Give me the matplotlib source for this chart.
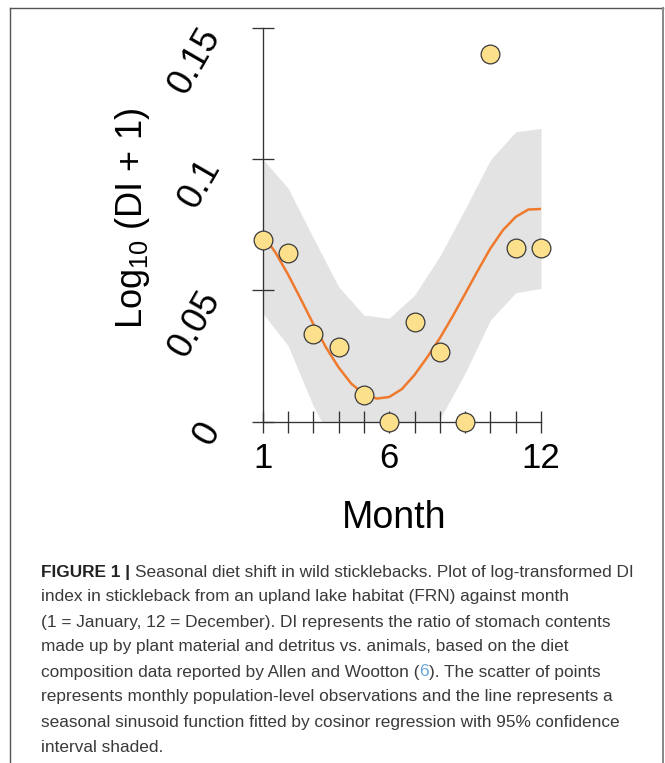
import matplotlib
matplotlib.use("Agg")
import matplotlib.pyplot as plt
from matplotlib import font_manager
from matplotlib.lines import Line2D
from matplotlib.transforms import offset_copy

# Data
months = [1, 2, 3, 4, 5, 6, 7, 8, 9, 10, 11, 12]
di_obs = [0.0692, 0.0644, 0.0334, 0.0284, 0.0100, 0.0, 0.0380, 0.0266, 0.0, 0.1399, 0.0660, 0.0660]

fit_month = [1, 1.5, 2, 2.5, 3, 3.5, 4, 4.5, 5, 5.5, 6, 6.5,
             7, 7.5, 8, 8.5, 9, 9.5, 10, 10.5, 11, 11.5, 12]
fit_vals = [0.0712, 0.0645, 0.0561, 0.0468, 0.0372, 0.0283, 0.0207, 0.0145, 0.0105, 0.0088, 0.0094, 0.0124,
            0.0178, 0.0245, 0.0318, 0.0400, 0.0487, 0.0575, 0.0660, 0.0730, 0.0780, 0.0808, 0.0810]

ci_upper = [0.1000, 0.0890, 0.0700, 0.0514, 0.0406, 0.0394, 0.0482, 0.0630, 0.0810, 0.0997, 0.1104, 0.1117]
ci_lower = [0.0413, 0.0290, 0.0060, -0.0120, -0.0200, -0.0205, -0.0120, 0.0010, 0.0185, 0.0387, 0.0491, 0.0508]

xtick_labels = ["1", "", "", "", "", "6", "", "", "", "", "", "12"]
yticks = [0, 0.05, 0.1, 0.15]
ytick_labels = ["0", "0.05", "0.1", "0.15"]

caption_lines = [
    [("FIGURE 1 |", "bold", "#222222"), ("Seasonal diet shift in wild sticklebacks. Plot of log-transformed DI", "normal", "#3a3a3a")],
    [("index in stickleback from an upland lake habitat (FRN) against month", "normal", "#3a3a3a")],
    [("(1 = January, 12 = December). DI represents the ratio of stomach contents", "normal", "#3a3a3a")],
    [("made up by plant material and detritus vs. animals, based on the diet", "normal", "#3a3a3a")],
    [("composition data reported by Allen and Wootton (", "normal", "#3a3a3a"), ("6", "normal", "#6aa6d8"),
     ("). The scatter of points", "normal", "#3a3a3a")],
    [("represents monthly population-level observations and the line represents a", "normal", "#3a3a3a")],
    [("seasonal sinusoid function fitted by cosinor regression with 95% confidence", "normal", "#3a3a3a")],
    [("interval shaded.", "normal", "#3a3a3a")],
]

plt.rcParams["font.family"] = ["Liberation Sans", "DejaVu Sans"]
plt.rcParams["mathtext.fontset"] = "custom"
plt.rcParams["mathtext.rm"] = "Liberation Sans"
plt.rcParams["mathtext.it"] = "Liberation Sans"

W, H = 665, 763
fig = plt.figure(figsize=(W / 100, H / 100), dpi=100)

ax = fig.add_axes([262.7 / W, 1 - 421.7 / H, (541 - 262.7) / W, (421.7 - 27.8) / H])
ax.fill_between(months, ci_lower, ci_upper, color="#e3e3e3", lw=0, zorder=1)
ax.plot(fit_month, fit_vals, color="#ef7a2e", lw=1.8, zorder=3)
ax.scatter(months, di_obs, s=13.5 ** 2, c="#fde08c", edgecolors="#3a3a3a",
           linewidths=0.9, zorder=4, clip_on=False)
ax.set_xlim(1, 12)
ax.set_ylim(0, 0.15)

for s in ["top", "right"]:
    ax.spines[s].set_visible(False)
for s in ["left", "bottom"]:
    ax.spines[s].set_color("#333333")
    ax.spines[s].set_linewidth(0.95)
ax.spines["left"].set_bounds(0, 0.15)
ax.spines["bottom"].set_bounds(1, 12)

ax.set_xticks(months)
ax.set_xticklabels(xtick_labels)
ax.set_yticks(yticks)
ax.set_yticklabels(ytick_labels)
ax.tick_params(direction="inout", length=16.5, width=0.95, color="#333333", labelsize=25)
ax.tick_params(axis="x", pad=6.5)
ax.tick_params(axis="y", pad=17, labelsize=26, labelrotation=60)
for t in ax.get_yticklabels():
    t.set_va("top")
    t.set_ha("right")
    t.set_transform(offset_copy(t.get_transform(), fig=fig, x=0, y=6, units="dots"))

fig.text(132 / W, 1 - 218 / H, r"Log$_{10}$ (DI + 1)", rotation=90, fontsize=26,
         ha="center", va="center")
fig.text(394 / W, 1 - 528 / H, "Month", fontsize=27, ha="center", va="baseline")

# frame around the figure panel
frame = dict(transform=fig.transFigure, color="#555555", lw=1.0)
fig.add_artist(Line2D([10 / W, 10 / W], [0, 1 - 8 / H], **frame))
fig.add_artist(Line2D([10 / W, 663 / W], [1 - 8 / H, 1 - 8 / H], **frame))
fig.add_artist(Line2D([663 / W, 663 / W], [0, 1 - 8 / H], color="#888888", lw=1.4, transform=fig.transFigure))

# caption
names = {f.name for f in font_manager.fontManager.ttflist}
cap_font = "Liberation Sans Narrow" if "Liberation Sans Narrow" in names else "Liberation Sans"
renderer = fig.canvas.get_renderer()


def text_width(s, size, weight):
    t = fig.text(0, 0, s, fontsize=size, fontweight=weight, family=cap_font)
    w = t.get_window_extent(renderer).width
    t.remove()
    return w


def line_width(pieces, size):
    sp = text_width("x x", size, "normal") - text_width("xx", size, "normal")
    total = 0
    for i, (s, wgt, _) in enumerate(pieces):
        total += text_width(s, size, wgt)
        if i < len(pieces) - 1 and pieces[0][0].startswith("FIGURE"):
            total += sp
    return total


base = 13
cap_size = base * 592 / line_width(caption_lines[0], base)

sp = text_width("x x", cap_size, "normal") - text_width("xx", cap_size, "normal")
y = 576.5
for pieces in caption_lines:
    x = 41
    for i, (s, wgt, col) in enumerate(pieces):
        t = fig.text(x / W, 1 - y / H, s, fontsize=cap_size, fontweight=wgt, color=col,
                     family=cap_font, ha="left", va="baseline")
        x += t.get_window_extent(renderer).width
        if s.startswith("FIGURE"):
            x += sp
    y += 25

fig.savefig("out.png", dpi=100)
